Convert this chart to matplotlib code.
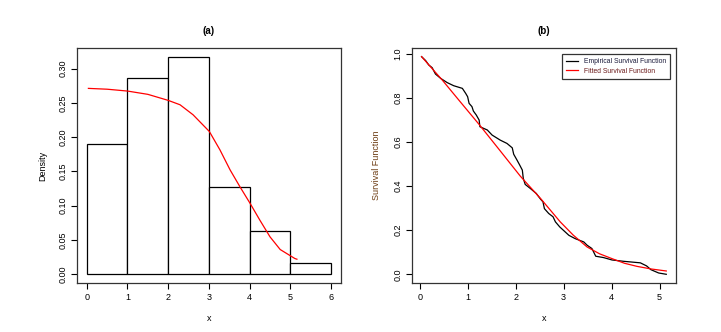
import matplotlib
matplotlib.use("Agg")
import matplotlib.pyplot as plt
from matplotlib.lines import Line2D

plt.rcParams['font.family'] = ['Liberation Sans', 'DejaVu Sans']

# histogram (a)
bin_edges = [0, 1, 2, 3, 4, 5, 6]
densities = [0.1905, 0.2857, 0.3175, 0.1270, 0.0635, 0.0159]

# fitted density curve (a)
fit_x = [0.04, 0.5, 1.0, 1.5, 2.0, 2.29, 2.61, 3.01, 3.27, 3.52, 3.76, 4.01, 4.25,
         4.50, 4.75, 5.11, 5.16]
fit_dens = [0.2712, 0.2700, 0.2673, 0.2625, 0.2537, 0.2473, 0.2327, 0.2083, 0.1815,
            0.1522, 0.1278, 0.1035, 0.0790, 0.0546, 0.0361, 0.0230, 0.0220]

# empirical survival function (b)
emp_x = [0.04, 0.125, 0.19, 0.26, 0.33, 0.44, 0.575, 0.71, 0.89, 0.96, 1.0, 1.03, 1.09,
         1.12, 1.18, 1.24, 1.255, 1.41, 1.51, 1.68, 1.82, 1.93, 1.96, 2.03, 2.08, 2.14,
         2.16, 2.20, 2.31, 2.43, 2.52, 2.57, 2.60, 2.69, 2.78, 2.83, 2.92, 3.02, 3.11,
         3.24, 3.42, 3.49, 3.59, 3.67, 3.83, 4.01, 4.25, 4.60, 4.73, 4.82, 4.98, 5.14]
emp_s = [0.988, 0.970, 0.950, 0.938, 0.909, 0.889, 0.870, 0.856, 0.844, 0.821, 0.806,
         0.776, 0.761, 0.741, 0.723, 0.700, 0.670, 0.655, 0.632, 0.609, 0.594, 0.574,
         0.545, 0.518, 0.498, 0.473, 0.435, 0.408, 0.389, 0.367, 0.341, 0.329, 0.298,
         0.276, 0.261, 0.238, 0.215, 0.195, 0.177, 0.162, 0.147, 0.132, 0.117, 0.082,
         0.076, 0.065, 0.059, 0.052, 0.038, 0.021, 0.006, 0.0]

# fitted survival function (b)
surv_x = [0.04, 0.47, 0.85, 1.24, 1.68, 2.10, 2.52, 2.93, 3.2, 3.49, 3.75, 4.01, 4.27,
          4.53, 4.83, 5.14]
surv_s = [0.988, 0.882, 0.782, 0.680, 0.560, 0.445, 0.344, 0.238, 0.178, 0.124, 0.093,
          0.071, 0.050, 0.036, 0.024, 0.015]


def r_style(ax):
    # look of base R graphics: box, outward ticks, rotated y labels
    for sp in ax.spines.values():
        sp.set_linewidth(0.9)
        sp.set_color('#333333')
    ax.tick_params(direction='out', length=4, width=0.8, labelsize=6.5, pad=3)
    for lab in ax.get_yticklabels():
        lab.set_rotation(90)
        lab.set_va('center')


fig = plt.figure(figsize=(7.21, 3.32), dpi=100)
ax1 = fig.add_axes([0.1068, 0.1476, 0.366, 0.708])
ax2 = fig.add_axes([0.5714, 0.1476, 0.366, 0.708])

# (a)
widths = [bin_edges[i + 1] - bin_edges[i] for i in range(len(densities))]
ax1.bar(bin_edges[:-1], densities, width=widths, align='edge',
        facecolor='white', edgecolor='black', linewidth=0.9)
ax1.plot(fit_x, fit_dens, color='red', linewidth=0.9)
ax1.set_xlim(-0.24, 6.24)
ax1.set_ylim(-0.0127, 0.3302)
ax1.set_xticks([0, 1, 2, 3, 4, 5, 6])
ax1.set_yticks([0.0, 0.05, 0.10, 0.15, 0.20, 0.25, 0.30])
ax1.set_yticklabels(['0.00', '0.05', '0.10', '0.15', '0.20', '0.25', '0.30'])
ax1.set_title('(a)', fontsize=7, fontweight='bold', pad=10)
ax1.set_xlabel('x', fontsize=6.5, labelpad=9)
ax1.set_ylabel('Density', fontsize=6.5, labelpad=8)
r_style(ax1)

# (b)
ax2.plot(emp_x, emp_s, color='black', linewidth=0.9)
ax2.plot(surv_x, surv_s, color='red', linewidth=0.9)
ax2.set_xlim(-0.16, 5.34)
ax2.set_ylim(-0.0395, 1.0275)
ax2.set_xticks([0, 1, 2, 3, 4, 5])
ax2.set_yticks([0.0, 0.2, 0.4, 0.6, 0.8, 1.0])
ax2.set_title('(b)', fontsize=7, fontweight='bold', pad=10)
ax2.set_xlabel('x', fontsize=6.5, labelpad=9)
ax2.set_ylabel('Survival Function', fontsize=6.5, labelpad=9, color='#6b3a10')
r_style(ax2)

handles = [Line2D([], [], color='black', linewidth=0.9),
           Line2D([], [], color='red', linewidth=0.9)]
leg = ax2.legend(handles, ['Empirical Survival Function', 'Fitted Survival Function'],
                 loc='upper right', fontsize=4.9, frameon=True, fancybox=False,
                 edgecolor='black', borderpad=0.6, handlelength=1.8,
                 labelspacing=0.35, borderaxespad=0.9)
leg.get_frame().set_linewidth(0.9)
leg.get_texts()[0].set_color('#1a1a3a')
leg.get_texts()[1].set_color('#6b1a1a')

fig.savefig('out.png', dpi=100)
